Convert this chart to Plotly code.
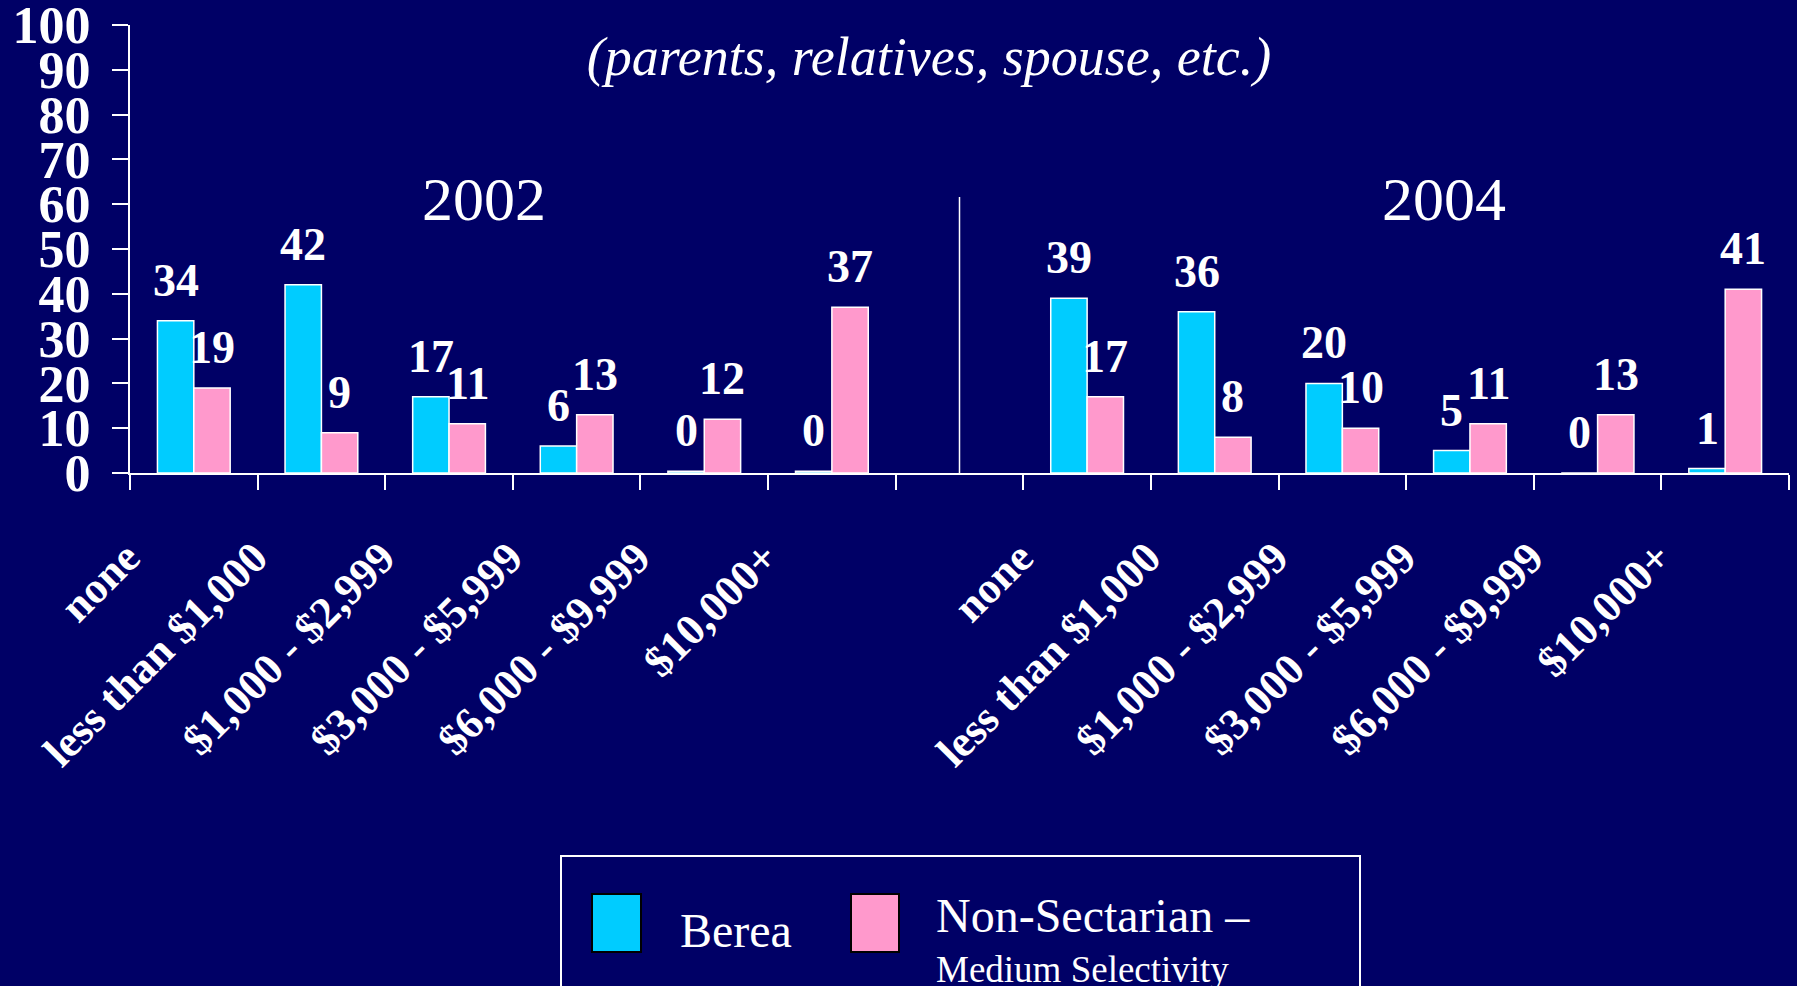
import plotly.graph_objects as go

# data
income_cats = ["none", "less than $1,000", "$1,000 - $2,999", "$3,000 - $5,999",
               "$6,000 - $9,999", "$10,000+"]
years = ["2002", "2004"]
berea_2002 = [34, 42, 17, 6, 0.4, 0.4]
nonsect_2002 = [19, 9, 11, 13, 12, 37]
berea_2004 = [39, 36, 20, 5, 0, 1]
nonsect_2004 = [17, 8, 10, 11, 13, 41]

BG = "#000066"
CYAN = "#00CCFF"
PINK = "#FF99CC"
SERIF = "Liberation Serif"

W, H = 1797, 986
ML, MR, MT, MB = 130, 8, 25, 513
PW, PH = W - ML - MR, H - MT - MB


def px_x(x):
    return (x - ML) / PW


def px_y(y):
    return (H - MB - y) / PH


# 2002 on slots 0..5, empty slot 6, 2004 on slots 7..12
pos = list(range(0, 6)) + list(range(7, 13))
ticktext = income_cats + income_cats
berea = berea_2002 + berea_2004
nonsect = nonsect_2002 + nonsect_2004

bargap = 0.43
slot_px = PW / 13
shift = (1 - bargap) * slot_px / 4

fig = go.Figure()
fig.add_trace(go.Bar(x=pos, y=berea, name="Berea", marker_color=CYAN,
                     marker_line=dict(color="white", width=1.5)))
fig.add_trace(go.Bar(x=pos, y=nonsect, name="Non-Sectarian – Medium Selectivity",
                     marker_color=PINK, marker_line=dict(color="white", width=1.5)))

# value labels above the bars
for xs, vals, dx in [(pos, berea, -shift), (pos, nonsect, shift)]:
    for x, v in zip(xs, vals):
        fig.add_annotation(x=x, y=v, text=f"{v:.0f}", showarrow=False,
                           xshift=dx, yshift=13, yanchor="bottom",
                           font=dict(family=SERIF, size=46, color="white", weight="bold"))

# year headings
for yr, xp in zip(years, [484, 1444]):
    fig.add_annotation(x=px_x(xp), y=px_y(199), xref="paper", yref="paper", text=yr,
                       showarrow=False, xanchor="center", yanchor="middle",
                       font=dict(family=SERIF, size=62, color="white"))

# separator between the years
fig.add_shape(type="line", xref="x", yref="paper", x0=6, x1=6, y0=0, y1=px_y(197),
              line=dict(color="white", width=1.5))

# legend drawn by hand (big swatches)
fig.add_shape(type="rect", xref="paper", yref="paper",
              x0=px_x(561), x1=px_x(1360), y0=px_y(856), y1=px_y(1010),
              line=dict(color="white", width=2))
for x0, x1, col in [(592, 641, CYAN), (851, 899, PINK)]:
    fig.add_shape(type="rect", xref="paper", yref="paper",
                  x0=px_x(x0), x1=px_x(x1), y0=px_y(894), y1=px_y(952),
                  fillcolor=col, line=dict(color="black", width=2))
fig.add_annotation(x=px_x(678), y=px_y(930), xref="paper", yref="paper", text="Berea",
                   showarrow=False, xanchor="left", yanchor="middle",
                   font=dict(family=SERIF, size=48, color="white"))
fig.add_annotation(x=px_x(934), y=px_y(915), xref="paper", yref="paper",
                   text="Non-Sectarian –", showarrow=False, xanchor="left", yanchor="middle",
                   font=dict(family=SERIF, size=48, color="white"))
fig.add_annotation(x=px_x(934), y=px_y(969), xref="paper", yref="paper",
                   text="Medium Selectivity", showarrow=False, xanchor="left", yanchor="middle",
                   font=dict(family=SERIF, size=37, color="white"))

fig.update_layout(
    template="none",
    width=W, height=H,
    margin=dict(l=ML, r=MR, t=MT, b=MB),
    paper_bgcolor=BG, plot_bgcolor=BG,
    barmode="group", bargap=bargap, bargroupgap=0,
    showlegend=False,
    title=dict(text="(parents, relatives, spouse, etc.)", x=929 / W, xanchor="center",
               y=1 - 56 / H, yanchor="middle",
               font=dict(family=SERIF, size=54, color="white", style="italic")),
)
fig.update_xaxes(
    range=[-0.5, 12.5], tickmode="array", tickvals=pos, ticktext=ticktext,
    ticks="", tickangle=-45, ticklabelshift=-67, ticklabelstandoff=39,
    ticklabeloverflow="allow",
    tickfont=dict(family=SERIF, size=44, color="white", weight="bold"),
    showline=True, linecolor="white", linewidth=2, showgrid=False, zeroline=False,
    automargin=False,
    minor=dict(tickmode="array", tickvals=[i - 0.5 for i in range(14)], ticks="outside",
               ticklen=15, tickwidth=2, tickcolor="white", showgrid=False),
)
fig.update_yaxes(
    range=[0, 100], dtick=10, ticks="outside", ticklen=16, tickwidth=2, tickcolor="white",
    ticklabelstandoff=11, ticklabeloverflow="allow",
    tickfont=dict(family=SERIF, size=52, color="white", weight="bold"),
    showline=True, linecolor="white", linewidth=2, showgrid=False, zeroline=False,
    automargin=False,
)

# drop the browser's default page margin so the slide fills the window
fig.write_html("out.html", config={"displayModeBar": False},
               post_script="document.body.style.margin='0';")
